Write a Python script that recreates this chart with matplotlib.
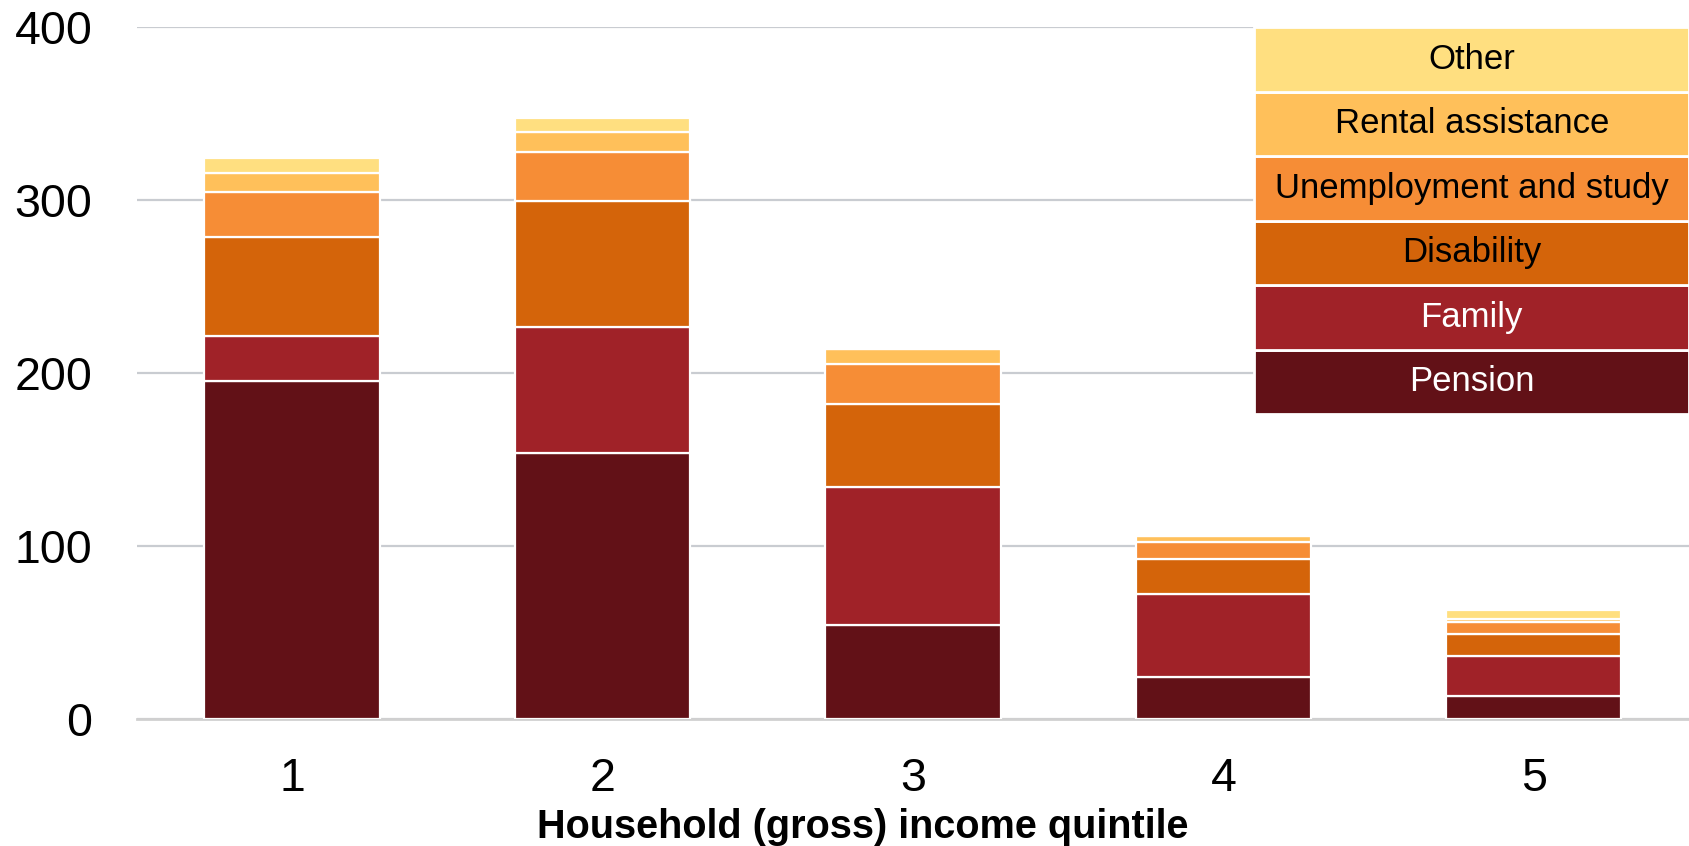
import matplotlib
matplotlib.use("Agg")
import matplotlib.pyplot as plt
from matplotlib.patches import Rectangle
import numpy as np

plt.rcParams['font.family'] = ['Liberation Sans', 'DejaVu Sans']

quintiles = ["1", "2", "3", "4", "5"]
series_names = ["Pension", "Family", "Disability", "Unemployment and study",
                "Rental assistance", "Other"]
pension = [195.5, 153.5, 54, 24, 13]
family = [26, 73, 80, 48, 23]
disability = [57, 73, 48, 20, 13]
unemployment = [26, 28, 23, 10, 7]
rental = [11, 12, 9, 3.5, 1.5]
other = [9, 8, 0, 0, 5]
series_values = [pension, family, disability, unemployment, rental, other]
colors = ["#621117", "#a02228", "#d4640a", "#f68d36", "#ffc05a", "#ffdf80"]
legend_text_colors = ["white", "white", "black", "black", "black", "black"]
y_ticks = [0, 100, 200, 300, 400]

fig = plt.figure(figsize=(16.89, 8.46), dpi=100)
ax = fig.add_axes([0.081, 0.1507, 0.919, 0.8173])

x = np.arange(1, len(quintiles) + 1)
bottom = np.zeros(len(quintiles))
for vals, col in zip(series_values, colors):
    vals = np.array(vals, dtype=float)
    ax.bar(x, vals, width=0.565, bottom=bottom, color=col,
           edgecolor="white", linewidth=1.6, zorder=3)
    bottom += vals

ax.set_xlim(0.5, 5.5)
ax.set_ylim(0, 400)
ax.set_yticks(y_ticks)
ax.set_yticklabels([str(t) for t in y_ticks])
ax.set_xticks(x)
ax.set_xticklabels(quintiles)
ax.tick_params(axis="both", length=0, labelsize=33.5, colors="black")
ax.tick_params(axis="y", pad=32)
ax.tick_params(axis="x", pad=28)
ax.yaxis.grid(True, color="#c9ccd1", linewidth=1.6, zorder=0)
ax.set_axisbelow(True)
for side in ["top", "right", "left"]:
    ax.spines[side].set_visible(False)
ax.spines["bottom"].set_color("#d0d0d0")
ax.spines["bottom"].set_linewidth(2)

ax.set_xlabel("Household (gross) income quintile", fontsize=28.5,
              fontweight="bold")
ax.xaxis.set_label_coords(0.468, -0.157)
ax.xaxis.label.set_va("center")

# Stacked legend boxes, top entry is the last series
lx0, lx1 = 0.720, 1.0
ly_top, ly_bot = 1.0, 0.4403
row_h = (ly_top - ly_bot) / len(series_names)
for i, (name, col, tcol) in enumerate(zip(series_names, colors, legend_text_colors)):
    y0 = ly_bot + i * row_h
    ax.add_patch(Rectangle((lx0, y0), lx1 - lx0, row_h, transform=ax.transAxes,
                           facecolor=col, edgecolor="white", linewidth=2,
                           zorder=5, clip_on=False))
    ax.text((lx0 + lx1) / 2, y0 + row_h / 2, name, transform=ax.transAxes,
            ha="center", va="center", fontsize=25, color=tcol, zorder=6)

fig.savefig("out.png", dpi=100, facecolor="white")
